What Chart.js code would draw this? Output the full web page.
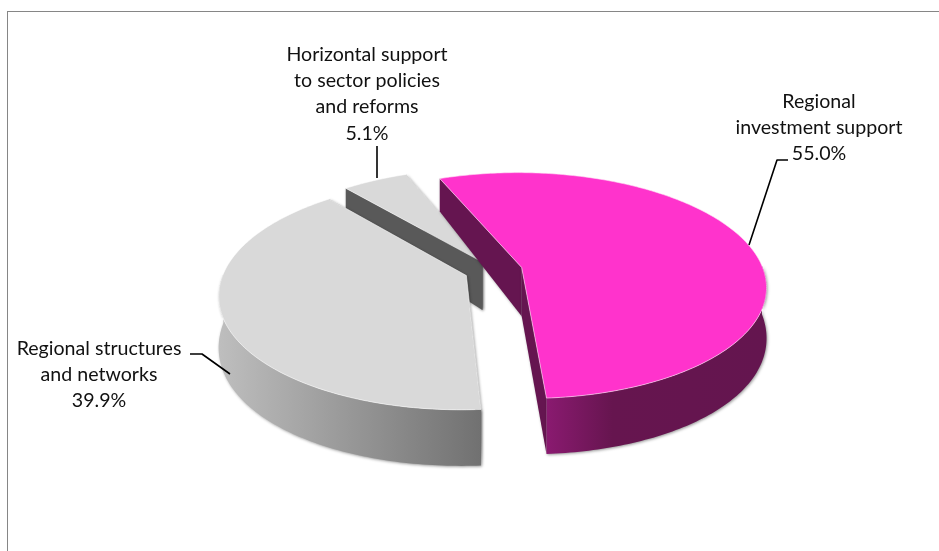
<!DOCTYPE html>
<html><head><meta charset="utf-8">
<style>html,body{margin:0;padding:0;background:#fff}canvas{display:block}</style>
<script src="https://cdn.jsdelivr.net/npm/chart.js@4"></script>
</head><body>
<canvas id="c" width="939" height="551" style="width:939px;height:551px"></canvas>
<script>
const categories = ['Regional investment support','Regional structures and networks','Horizontal support to sector policies and reforms'];
const values = [55.0, 39.9, 5.1];
const labelLines = [['Regional','investment support'],['Regional structures','and networks'],['Horizontal support','to sector policies','and reforms']];
const topColors = ['#FF33CC','#D9D9D9','#D9D9D9'];
const wallColors = ['#651550','#595959','#595959'];
const rimStops = [[[0,'#8A1A70'],[0.3,'#66154F'],[1,'#64154F']],[[0,'#BEBEBE'],[1,'#717171']],[[0,'#BEBEBE'],[1,'#717171']]];
const explode = [0.12, 0.12, 0.09];
const labelCenters = [[819,108],[99,355],[367,61]];
const leaders = [[[788,160],[777,160],[749,245]],[[190,354],[202,354],[230,374]],[[377,146],[377,178]]];

const P = {X:493.5, Y:270.5, Rx:242, B:111, a:0.16};
const proj = (u,v)=>{const s=1/(1-P.a*v);return [P.X+P.Rx*u*s, P.Y+P.B*v*s];};
const depth = v=>49+12*v-5*v*v;

function poly(ctx,pts){ctx.beginPath();pts.forEach((p,i)=>i?ctx.lineTo(p[0],p[1]):ctx.moveTo(p[0],p[1]));ctx.closePath();}

const pie3d = {
  id:'pie3d',
  beforeDatasetsDraw(chart){
    const ctx = chart.ctx, arcs = chart.getDatasetMeta(0).data;
    [2,1,0].forEach(i=>{
      const el = arcs[i];
      const t0 = el.startAngle+Math.PI/2, t1 = el.endAngle+Math.PI/2, tm=(t0+t1)/2;
      const u0 = explode[i]*Math.sin(tm), v0 = -explode[i]*Math.cos(tm);
      const n = Math.max(8,Math.round((t1-t0)*60));
      const top=[], bot=[], rimTop=[], rimBot=[];
      for(let k=0;k<=n;k++){
        const t=t0+(t1-t0)*k/n, u=u0+Math.sin(t), v=v0-Math.cos(t), p=proj(u,v), b=[p[0],p[1]+depth(v)];
        top.push(p); bot.push(b);
        if(-Math.cos(t)>=-0.03){rimTop.push(p);rimBot.push(b);}
      }
      const a=proj(u0,v0), ab=[a[0],a[1]+depth(v0)];
      ctx.save();
      ctx.shadowColor='rgba(0,0,0,0.4)';ctx.shadowBlur=3;ctx.shadowOffsetX=1;ctx.shadowOffsetY=1;
      // straight walls: the one nearer the viewer goes last
      ctx.fillStyle=wallColors[i];
      const wallA=[a,top[0],bot[0],ab], wallB=[a,top[n],bot[n],ab];
      (i===2?[wallB,wallA]:[wallA,wallB]).forEach(w=>{poly(ctx,w);ctx.fill();});
      // outer rim, only the part that faces the viewer
      if(rimTop.length>1){
        const xs=rimTop.concat(rimBot).map(p=>p[0]);
        const gr=ctx.createLinearGradient(Math.min(...xs),0,Math.max(...xs),0);
        rimStops[i].forEach(s=>gr.addColorStop(s[0],s[1]));
        ctx.fillStyle=gr;
        poly(ctx,rimTop.concat(rimBot.slice().reverse()));ctx.fill();
      }
      ctx.restore();
      // top face
      ctx.save();
      ctx.fillStyle=topColors[i];
      poly(ctx,[a].concat(top));ctx.fill();
      ctx.strokeStyle=i===0?'rgba(255,225,245,0.75)':'rgba(255,255,255,0.7)';
      ctx.lineWidth=0.8;
      ctx.stroke();
      ctx.restore();
    });
    return false;
  },
  afterDraw(chart){
    const ctx=chart.ctx;
    ctx.save();
    ctx.fillStyle='#868686';
    ctx.fillRect(7,11,932,1);
    ctx.fillRect(7,11,1,540);
    ctx.strokeStyle='#000';ctx.lineWidth=1.6;ctx.lineJoin='round';
    leaders.forEach(l=>{ctx.beginPath();l.forEach((p,i)=>i?ctx.lineTo(p[0],p[1]):ctx.moveTo(p[0],p[1]));ctx.stroke();});
    ctx.fillStyle='#111';ctx.font='19.6px Lato';ctx.textAlign='center';ctx.textBaseline='alphabetic';
    labelLines.forEach((ls,i)=>{
      const [cx,y0]=labelCenters[i];
      ls.concat([values[i].toFixed(1)+'%']).forEach((s,k)=>ctx.fillText(s,cx,y0+k*26.2));
    });
    ctx.restore();
  }
};

new Chart(document.getElementById('c'),{
  type:'pie',
  data:{labels:categories,datasets:[{data:values,backgroundColor:topColors}]},
  options:{responsive:false,animation:false,rotation:-21.9,
    plugins:{legend:{display:false},tooltip:{enabled:false}}},
  plugins:[pie3d]
});
</script>
</body></html>
